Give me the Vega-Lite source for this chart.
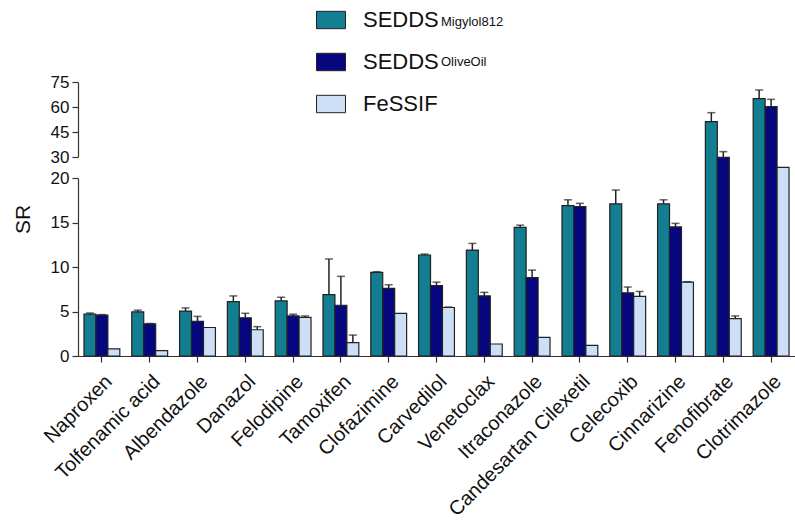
{
  "$schema": "https://vega.github.io/schema/vega-lite/v6.json",
  "width": 717,
  "height": 274,
  "autosize": {"type": "none"},
  "padding": {"left": 78, "top": 82, "right": 0, "bottom": 168},
  "background": "white",
  "config": {
    "view": {"stroke": null},
    "font": "Liberation Sans",
    "axis": {"grid": false, "domainColor": "#333", "tickColor": "#333", "labelColor": "#111", "titleColor": "#111", "domainWidth": 1.2, "tickWidth": 1.2}
  },
  "data": {"values": [
    {"drug": "Naproxen", "series": "SEDDS Migylol812", "sub": "Migylol812", "mean": 4.7, "hi": 4.83},
    {"drug": "Naproxen", "series": "SEDDS OliveOil", "sub": "OliveOil", "mean": 4.6, "hi": 4.65},
    {"drug": "Naproxen", "series": "FeSSIF", "sub": "", "mean": 0.8, "hi": 0.8},
    {"drug": "Tolfenamic acid", "series": "SEDDS Migylol812", "sub": "Migylol812", "mean": 4.95, "hi": 5.15},
    {"drug": "Tolfenamic acid", "series": "SEDDS OliveOil", "sub": "OliveOil", "mean": 3.6, "hi": 3.65},
    {"drug": "Tolfenamic acid", "series": "FeSSIF", "sub": "", "mean": 0.6, "hi": 0.6},
    {"drug": "Albendazole", "series": "SEDDS Migylol812", "sub": "Migylol812", "mean": 5.05, "hi": 5.4},
    {"drug": "Albendazole", "series": "SEDDS OliveOil", "sub": "OliveOil", "mean": 3.9, "hi": 4.45},
    {"drug": "Albendazole", "series": "FeSSIF", "sub": "", "mean": 3.2, "hi": 3.2},
    {"drug": "Danazol", "series": "SEDDS Migylol812", "sub": "Migylol812", "mean": 6.1, "hi": 6.75},
    {"drug": "Danazol", "series": "SEDDS OliveOil", "sub": "OliveOil", "mean": 4.3, "hi": 4.8},
    {"drug": "Danazol", "series": "FeSSIF", "sub": "", "mean": 2.95, "hi": 3.3},
    {"drug": "Felodipine", "series": "SEDDS Migylol812", "sub": "Migylol812", "mean": 6.2, "hi": 6.6},
    {"drug": "Felodipine", "series": "SEDDS OliveOil", "sub": "OliveOil", "mean": 4.5, "hi": 4.7},
    {"drug": "Felodipine", "series": "FeSSIF", "sub": "", "mean": 4.35, "hi": 4.5},
    {"drug": "Tamoxifen", "series": "SEDDS Migylol812", "sub": "Migylol812", "mean": 6.9, "hi": 10.9},
    {"drug": "Tamoxifen", "series": "SEDDS OliveOil", "sub": "OliveOil", "mean": 5.7, "hi": 8.95},
    {"drug": "Tamoxifen", "series": "FeSSIF", "sub": "", "mean": 1.5, "hi": 2.35},
    {"drug": "Clofazimine", "series": "SEDDS Migylol812", "sub": "Migylol812", "mean": 9.4, "hi": 9.47},
    {"drug": "Clofazimine", "series": "SEDDS OliveOil", "sub": "OliveOil", "mean": 7.6, "hi": 8.0},
    {"drug": "Clofazimine", "series": "FeSSIF", "sub": "", "mean": 4.8, "hi": 4.8},
    {"drug": "Carvedilol", "series": "SEDDS Migylol812", "sub": "Migylol812", "mean": 11.35, "hi": 11.45},
    {"drug": "Carvedilol", "series": "SEDDS OliveOil", "sub": "OliveOil", "mean": 7.9, "hi": 8.3},
    {"drug": "Carvedilol", "series": "FeSSIF", "sub": "", "mean": 5.45, "hi": 5.5},
    {"drug": "Venetoclax", "series": "SEDDS Migylol812", "sub": "Migylol812", "mean": 11.9, "hi": 12.65},
    {"drug": "Venetoclax", "series": "SEDDS OliveOil", "sub": "OliveOil", "mean": 6.75, "hi": 7.15},
    {"drug": "Venetoclax", "series": "FeSSIF", "sub": "", "mean": 1.35, "hi": 1.35},
    {"drug": "Itraconazole", "series": "SEDDS Migylol812", "sub": "Migylol812", "mean": 14.45, "hi": 14.7},
    {"drug": "Itraconazole", "series": "SEDDS OliveOil", "sub": "OliveOil", "mean": 8.8, "hi": 9.65},
    {"drug": "Itraconazole", "series": "FeSSIF", "sub": "", "mean": 2.1, "hi": 2.1},
    {"drug": "Candesartan Cilexetil", "series": "SEDDS Migylol812", "sub": "Migylol812", "mean": 16.9, "hi": 17.55},
    {"drug": "Candesartan Cilexetil", "series": "SEDDS OliveOil", "sub": "OliveOil", "mean": 16.8, "hi": 17.15},
    {"drug": "Candesartan Cilexetil", "series": "FeSSIF", "sub": "", "mean": 1.2, "hi": 1.2},
    {"drug": "Celecoxib", "series": "SEDDS Migylol812", "sub": "Migylol812", "mean": 17.1, "hi": 18.65},
    {"drug": "Celecoxib", "series": "SEDDS OliveOil", "sub": "OliveOil", "mean": 7.1, "hi": 7.75},
    {"drug": "Celecoxib", "series": "FeSSIF", "sub": "", "mean": 6.7, "hi": 7.25},
    {"drug": "Cinnarizine", "series": "SEDDS Migylol812", "sub": "Migylol812", "mean": 17.1, "hi": 17.55},
    {"drug": "Cinnarizine", "series": "SEDDS OliveOil", "sub": "OliveOil", "mean": 14.5, "hi": 14.9},
    {"drug": "Cinnarizine", "series": "FeSSIF", "sub": "", "mean": 8.3, "hi": 8.35},
    {"drug": "Fenofibrate", "series": "SEDDS Migylol812", "sub": "Migylol812", "mean": 51.2, "hi": 56.6},
    {"drug": "Fenofibrate", "series": "SEDDS OliveOil", "sub": "OliveOil", "mean": 29.8, "hi": 33.2},
    {"drug": "Fenofibrate", "series": "FeSSIF", "sub": "", "mean": 4.2, "hi": 4.5},
    {"drug": "Clotrimazole", "series": "SEDDS Migylol812", "sub": "Migylol812", "mean": 65.0, "hi": 70.2},
    {"drug": "Clotrimazole", "series": "SEDDS OliveOil", "sub": "OliveOil", "mean": 60.2, "hi": 64.6},
    {"drug": "Clotrimazole", "series": "FeSSIF", "sub": "", "mean": 25.1, "hi": 25.1}
  ]},
  "layer": [
    {
      "layer": [
        {
          "mark": {"type": "bar", "stroke": "#222", "strokeWidth": 1.2},
          "encoding": {
            "x": {"field": "drug", "type": "nominal", "sort": null, "scale": {"paddingInner": 0.25, "paddingOuter": 0.125},
              "axis": {"title": null, "labelAngle": -45, "labelFontSize": 20, "labelAlign": "right", "labelBaseline": "top", "labelPadding": 9, "labelLimit": 0, "tickSize": 6}},
            "xOffset": {"field": "series", "type": "nominal", "sort": null, "scale": {"paddingInner": 0}},
            "y": {"field": "mean", "type": "quantitative",
              "scale": {"domain": [0, 20, 30, 75], "range": [274, 96, 75, 0], "nice": false},
              "axis": {"orient": "left", "title": "SR", "titleFontSize": 21, "titleFontWeight": "normal", "titlePadding": 45, "domain": false, "ticks": false, "labels": false}},
            "color": {"field": "series", "type": "nominal",
              "scale": {"domain": ["SEDDS Migylol812", "SEDDS OliveOil", "FeSSIF"], "range": ["#137e91", "#06067e", "#cddff6"]},
              "legend": {"title": null, "orient": "none", "legendX": 238, "legendY": -77, "padding": 0,
                "symbolType": "M-1,-0.6H1V0.6H-1Z", "symbolSize": 841, "symbolStrokeColor": "#222", "symbolStrokeWidth": 1,
                "labelFontSize": 22, "labelColor": "#111", "labelOffset": 17, "rowPadding": 16,
                "labelExpr": "datum.label == 'FeSSIF' ? 'FeSSIF' : 'SEDDS'"}},
            "opacity": {"field": "sub", "type": "nominal",
              "scale": {"domain": ["Migylol812", "OliveOil", ""], "range": [1, 1, 1]},
              "legend": {"title": null, "orient": "none", "legendX": 350, "legendY": -67, "padding": 0,
                "symbolSize": 0, "symbolOpacity": 0, "symbolStrokeWidth": 0,
                "labelFontSize": 13, "labelColor": "#111", "labelOffset": 0, "rowPadding": 26}}
          }
        },
        {
          "transform": [{"filter": "datum.hi > datum.mean"}],
          "mark": {"type": "rule", "color": "#222", "strokeWidth": 1.5},
          "encoding": {
            "x": {"field": "drug", "type": "nominal", "sort": null},
            "xOffset": {"field": "series", "type": "nominal", "sort": null},
            "y": {"field": "mean", "type": "quantitative"},
            "y2": {"field": "hi"}
          }
        },
        {
          "transform": [{"filter": "datum.hi > datum.mean"}],
          "mark": {"type": "tick", "color": "#222", "thickness": 1.5, "size": 8},
          "encoding": {
            "x": {"field": "drug", "type": "nominal", "sort": null},
            "xOffset": {"field": "series", "type": "nominal", "sort": null},
            "y": {"field": "hi", "type": "quantitative"}
          }
        }
      ]
    },
    {
      "mark": {"type": "rule", "opacity": 0},
      "encoding": {
        "y": {"datum": 0, "type": "quantitative",
          "scale": {"domain": [0, 20], "range": [274, 96], "nice": false},
          "axis": {"orient": "left", "title": null, "values": [0, 5, 10, 15, 20], "labelFontSize": 17, "tickSize": 6, "labelPadding": 3}}
      }
    },
    {
      "mark": {"type": "rule", "opacity": 0},
      "encoding": {
        "y": {"datum": 30, "type": "quantitative",
          "scale": {"domain": [30, 75], "range": [75, 0], "nice": false},
          "axis": {"orient": "left", "title": null, "values": [30, 45, 60, 75], "labelFontSize": 17, "tickSize": 6, "labelPadding": 3}}
      }
    }
  ],
  "resolve": {"scale": {"y": "independent"}, "axis": {"y": "independent"}}
}
